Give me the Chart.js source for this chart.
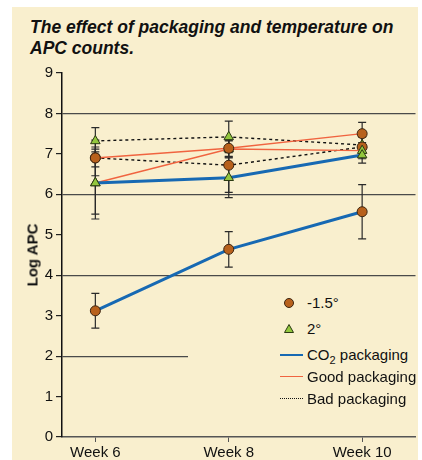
<!DOCTYPE html>
<html>
<head>
<meta charset="utf-8">
<script src="https://cdn.jsdelivr.net/npm/chart.js@4/dist/chart.umd.min.js"></script>
<style>
  html, body { margin: 0; padding: 0; background: #fff; }
  body { width: 422px; height: 460px; position: relative; overflow: hidden;
         font-family: "Liberation Sans", Arial, sans-serif; }
  #panel { position: absolute; left: 12px; top: 7px; width: 406px; height: 453px; background: #f9efce; }
  #title { position: absolute; left: 30px; top: 17px; width: 392px; font-size: 17.5px;
           font-weight: bold; font-style: italic; line-height: 21px; color: #111; white-space: nowrap; }
  #chart { position: absolute; left: 0; top: 60px; }
  #ytitle { position: absolute; left: 32px; top: 255px; transform: translate(-50%, -50%) rotate(-90deg);
            font-size: 15px; font-weight: bold; white-space: nowrap; color: #111; }
  #legend { position: absolute; left: 188px; top: 288px; width: 228px; height: 124px; background: #f9efce; }
  .row { position: absolute; left: 0; height: 20px; font-size: 15px; color: #111; line-height: 20px; }
  .row span { position: absolute; left: 119px; white-space: nowrap; }
  .sym { position: absolute; }
</style>
</head>
<body>
<div id="panel"></div>
<div id="title">The effect of packaging and temperature on<br>APC counts.</div>
<canvas id="chart" width="422" height="400"></canvas>
<div id="ytitle">Log APC</div>
<div id="legend"></div>
<script>
// Weeks on the x axis and mean log APC per packaging / storage temperature.
const weeks = [6, 8, 10];
const yTicks = [0, 1, 2, 3, 4, 5, 6, 7, 8, 9];

const co2Cold = [3.12, 4.64, 5.57];
const co2Warm = [6.28, 6.41, 6.97];
const goodCold = [6.9, 7.14, 7.5];
const goodWarm = [6.28, 7.12, 7.08];
const badCold = [6.9, 6.72, 7.17];
const badWarm = [7.32, 7.42, 7.22];

// +/- error per point
const co2ColdErr = [0.43, 0.44, 0.67];
const co2WarmErr = [0.89, 0.49, 0.2];
const goodColdErr = [0.22, 0.2, 0.28];
const goodWarmErr = [0.77, 0.2, 0.2];
const badColdErr = [0.44, 0.67, 0.25];
const badWarmErr = [0.33, 0.39, 0.2];

const BLUE = "#1769b3";
const RED = "#f06440";
const DARK = "#111";
const BROWN = "#b8611c";
const GREEN = "#93c83e";

function pts(values) {
  return weeks.map((w, i) => ({ x: w, y: values[i] }));
}

function series(label, values, errs, color, width, dash, cold) {
  return {
    label,
    data: pts(values),
    errs,
    borderColor: color,
    borderWidth: width,
    borderDash: dash,
    pointStyle: cold ? "circle" : "triangle",
    pointRadius: cold ? 5 : 5.5,
    pointBackgroundColor: cold ? BROWN : GREEN,
    pointBorderColor: cold ? "#3b2410" : "#2b3a12",
    pointBorderWidth: 1,
    tension: 0,
    fill: false,
  };
}

const errorBars = {
  id: "errorBars",
  beforeDatasetsDraw(chart) {
    const { ctx, scales } = chart;
    ctx.save();
    ctx.strokeStyle = "#2a2a2a";
    ctx.lineWidth = 1.2;
    chart.data.datasets.forEach((ds) => {
      ds.data.forEach((p, i) => {
        const x = scales.x.getPixelForValue(p.x);
        const top = scales.y.getPixelForValue(p.y + ds.errs[i]);
        const bot = scales.y.getPixelForValue(p.y - ds.errs[i]);
        ctx.beginPath();
        ctx.moveTo(x, top); ctx.lineTo(x, bot);
        ctx.moveTo(x - 4, top); ctx.lineTo(x + 4, top);
        ctx.moveTo(x - 4, bot); ctx.lineTo(x + 4, bot);
        ctx.stroke();
      });
    });
    ctx.restore();
  },
};

function renderChart() {
  new Chart(document.getElementById("chart"), {
    type: "line",
    data: {
      datasets: [
        series("CO2 -1.5", co2Cold, co2ColdErr, BLUE, 3, [], true),
        series("CO2 2", co2Warm, co2WarmErr, BLUE, 3, [], false),
        series("Good -1.5", goodCold, goodColdErr, RED, 1.4, [], true),
        series("Good 2", goodWarm, goodWarmErr, RED, 1.4, [], false),
        series("Bad -1.5", badCold, badColdErr, DARK, 1.4, [3, 3], true),
        series("Bad 2", badWarm, badWarmErr, DARK, 1.4, [3, 3], false),
      ],
    },
    options: {
      responsive: false,
      animation: false,
      layout: { padding: { top: 13, right: 4, left: 0, bottom: 0 } },
      plugins: { legend: { display: false }, tooltip: { enabled: false } },
      scales: {
        x: {
          type: "linear",
          min: 5.5,
          max: 10.8,
          afterFit: (s) => { s.height = 23; },
          afterBuildTicks: (s) => { s.ticks = weeks.map((v) => ({ value: v })); },
          ticks: {
            callback: (v) => "Week " + v,
            color: "#111",
            font: { family: "Liberation Sans", size: 15 },
            padding: 2,
            maxRotation: 0,
          },
          grid: { drawOnChartArea: false, tickColor: "#555", tickLength: 5 },
          border: { color: "#555", width: 1.5 },
        },
        y: {
          min: 0,
          max: 9,
          afterFit: (s) => { s.width = 62; },
          afterBuildTicks: (s) => { s.ticks = yTicks.map((v) => ({ value: v })); },
          ticks: {
            color: "#111",
            font: { family: "Liberation Sans", size: 15 },
            padding: 3,
          },
          grid: {
            color: (c) => (c.tick && c.tick.value > 0 && c.tick.value % 2 === 0 ? "#4a4a4a" : "rgba(0,0,0,0)"),
            lineWidth: 1.2,
            tickColor: "#222",
            tickLength: 6,
          },
          border: { color: "#111", width: 1.5 },
        },
      },
    },
    plugins: [errorBars],
  });
}

function renderLegend() {
  const legend = document.getElementById("legend");
  const items = [
    { y: 5, sym: `<svg class="sym" width="14" height="14" style="left:94px;top:3px"><circle cx="7" cy="7" r="4.5" fill="${BROWN}" stroke="#3b2410"/></svg>`, text: "-1.5°" },
    { y: 31, sym: `<svg class="sym" width="14" height="14" style="left:94px;top:3px"><polygon points="7,2.5 11.5,10.5 2.5,10.5" fill="${GREEN}" stroke="#2b3a12"/></svg>`, text: "2°" },
    { y: 57, sym: `<div class="sym" style="left:92px;top:9px;width:23px;border-top:2.5px solid ${BLUE}"></div>`, text: "CO<sub style='font-size:11px'>2</sub> packaging" },
    { y: 79, sym: `<div class="sym" style="left:92px;top:9px;width:23px;border-top:1.5px solid ${RED}"></div>`, text: "Good packaging" },
    { y: 101, sym: `<div class="sym" style="left:92px;top:9px;width:23px;border-top:1.5px dotted ${DARK}"></div>`, text: "Bad packaging" },
  ];
  legend.innerHTML = items
    .map((it) => `<div class="row" style="top:${it.y}px;width:228px">${it.sym}<span>${it.text}</span></div>`)
    .join("");
}

renderChart();
renderLegend();
</script>
</body>
</html>
